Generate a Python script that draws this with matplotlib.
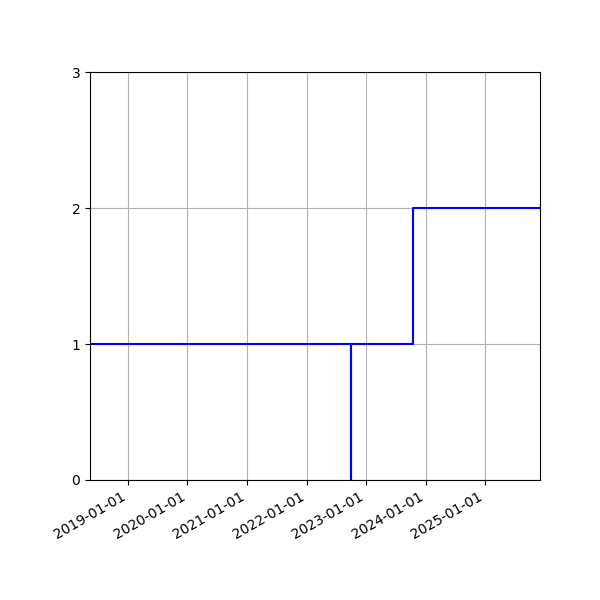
import matplotlib
matplotlib.use("Agg")
import matplotlib.pyplot as plt
import matplotlib.dates as mdates
import numpy as np

dates = np.array(["2018-05-13", "2022-09-29", "2022-09-29", "2023-10-13", "2025-12-03"], dtype="datetime64[D]")
values = [1, 0, 1, 2, 2]
y_ticks = [0, 1, 2, 3]

fig, ax = plt.subplots(figsize=(6, 6), dpi=100)
ax.plot(dates, values, drawstyle="steps-post", color="blue", linewidth=1.5)
ax.set_xlim(dates[0], dates[-1])
ax.set_ylim(0, 3)
ax.set_yticks(y_ticks)
ax.xaxis.set_major_locator(mdates.YearLocator())
ax.xaxis.set_major_formatter(mdates.DateFormatter("%Y-%m-%d"))
ax.grid(True)
fig.autofmt_xdate()
fig.subplots_adjust(left=0.15, right=0.9, top=0.88, bottom=0.2)
fig.savefig("out.png", dpi=100)
